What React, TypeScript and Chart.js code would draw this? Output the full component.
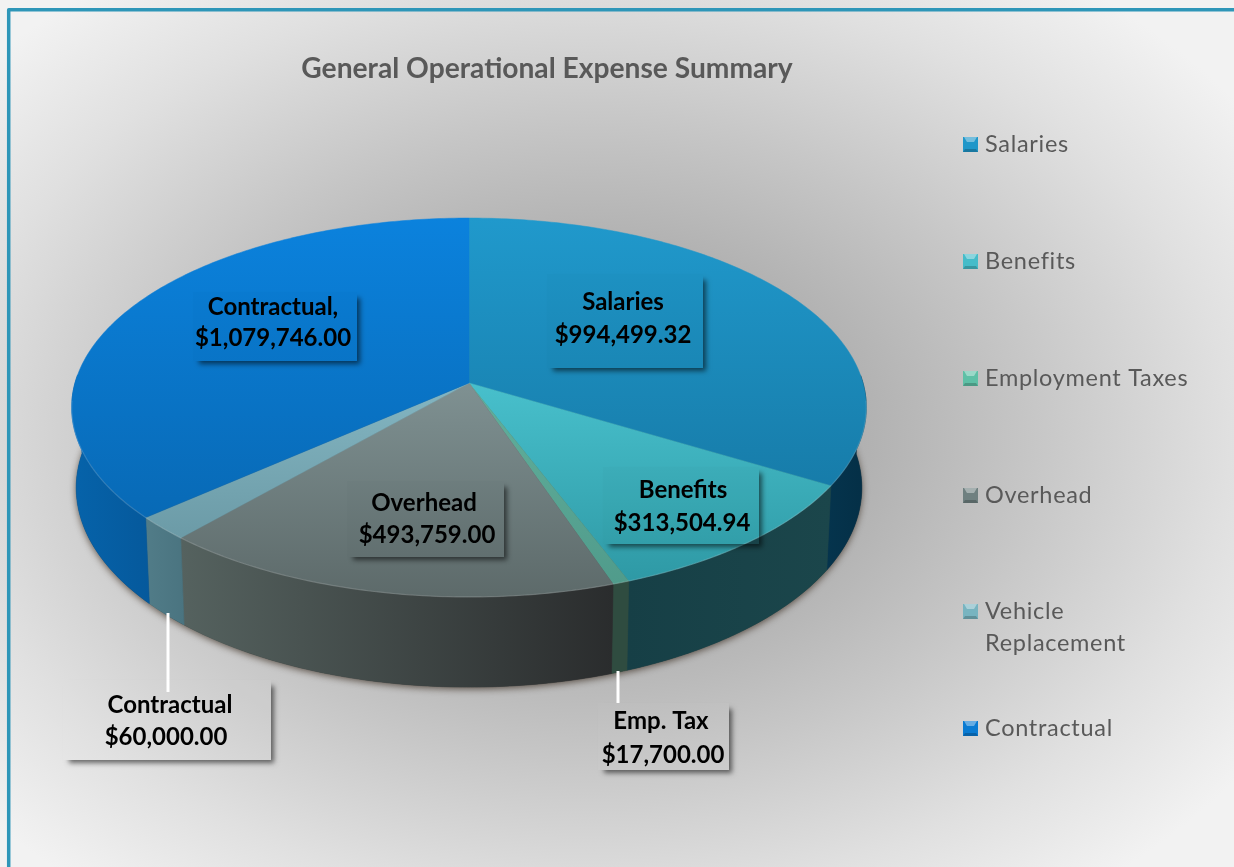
import React, { useEffect, useRef } from "react";
import { Chart, registerables } from "chart.js";

Chart.register(...registerables);

const categories = ["Salaries", "Benefits", "Employment Taxes", "Overhead", "Vehicle Replacement", "Contractual"];
const expenseValues = [994499.32, 313504.94, 17700, 493759, 60000, 1079746];
const dataLabelNames = ["Salaries", "Benefits", "Emp. Tax", "Overhead", "Contractual", "Contractual,"];
const chartTitle = "General Operational Expense Summary";
const legendColors = ["#2097c9", "#45bcc9", "#5ec0a6", "#6f8080", "#78b4c0", "#0a7bd2"];
const topLight = ["#2099cc", "#48c0cc", "#62b09c", "#7f9192", "#84b6c2", "#0b82dd"];
const topDark = ["#13709b", "#2c96a2", "#4f9a8a", "#5d6a6a", "#62909c", "#0763ab"];
const wallLeft = ["#05344d", "#163f46", "#2f4c40", "#55625f", "#517c88", "#0663aa"];
const wallRight = ["#042f46", "#1b464b", "#2f4c40", "#2a2c2d", "#4a7480", "#05599c"];

const boxes = [
  { l: 547, t: 274, r: 703, b: 368, dark: true },
  { l: 603, t: 467, r: 759, b: 544, dark: true },
  { l: 598, t: 703, r: 729, b: 770, dark: false },
  { l: 347, t: 481, r: 504, b: 557, dark: true },
  { l: 63, t: 680, r: 271, b: 760, dark: false },
  { l: 193, t: 292, r: 357, b: 361, dark: true },
];
const textCentres = [
  [623, 302, 623, 335], [683, 490, 682, 523], [661, 721, 663, 755], [424, 503, 427, 535], [170, 705, 166, 737], [273, 307, 273, 338],
];
const leaders = [
  [168, 613, 692],
  [618, 671, 703],
];
const legendRows = [144, 261, 378, 495, 611, 728];

const K = 0.1293;
const projectTop = (a: number) => {
  const u = Math.cos(a), v = -Math.sin(a), w = 1 + K * v;
  return [469 + (394 * u) / w, 383 - (186.3 * v) / w];
};
const projectBottom = (a: number) => {
  const u = Math.cos(a), v = -Math.sin(a), w = 1 + K * v;
  return [469 + (389.5 * u) / w, 462 - (196 * v) / w];
};

const money = (n: number) =>
  "$" + n.toLocaleString("en-US", { minimumFractionDigits: 2, maximumFractionDigits: 2 });

const pie3d = {
  id: "pie3d",
  beforeDraw(chart: any) {
    const ctx = chart.ctx as CanvasRenderingContext2D;
    const W = chart.width, H = chart.height;
    ctx.save();
    ctx.fillStyle = "#fff";
    ctx.fillRect(0, 0, W, H);
    ctx.save();
    ctx.translate(590, 440);
    ctx.scale(1, 0.72);
    const g = ctx.createRadialGradient(0, 0, 0, 0, 0, 800);
    g.addColorStop(0, "#8c8c8c");
    g.addColorStop(0.3, "#adadad");
    g.addColorStop(0.55, "#c6c6c6");
    g.addColorStop(0.8, "#e0e0e0");
    g.addColorStop(1, "#f2f2f2");
    ctx.fillStyle = g;
    ctx.fillRect(-700, -800, 1500, 1600);
    ctx.restore();
    ctx.strokeStyle = "#2e96b8";
    ctx.lineWidth = 3.5;
    ctx.lineJoin = "round";
    ctx.beginPath();
    ctx.moveTo(8.7, H + 5);
    ctx.lineTo(8.7, 9.7);
    ctx.lineTo(W + 5, 9.7);
    ctx.stroke();
    ctx.restore();
  },
  beforeDatasetsDraw(chart: any) {
    const ctx = chart.ctx as CanvasRenderingContext2D;
    const arcs = chart.getDatasetMeta(0).data as any[];

    // soft shadow under the whole disc
    ctx.save();
    ctx.shadowColor = "rgba(40,25,10,0.65)";
    ctx.shadowBlur = 7;
    ctx.shadowOffsetY = 2;
    ctx.fillStyle = "#333";
    ctx.beginPath();
    for (let i = 0; i <= 240; i++) {
      const p = projectBottom((i / 240) * Math.PI * 2);
      if (i === 0) ctx.moveTo(p[0], p[1]);
      else ctx.lineTo(p[0], p[1]);
    }
    ctx.closePath();
    ctx.fill();
    ctx.restore();

    // side walls
    arcs.forEach((arc, i) => {
      const s = arc.startAngle, e = arc.endAngle;
      const top: number[][] = [], bot: number[][] = [];
      const n = 120;
      for (let j = 0; j <= n; j++) {
        const a = s + ((e - s) * j) / n;
        if (-Math.sin(a) > 0.05) continue;
        top.push(projectTop(a));
        bot.push(projectBottom(a));
      }
      if (top.length < 2) return;
      const xs = top.concat(bot).map((p) => p[0]);
      const g = ctx.createLinearGradient(Math.min(...xs), 0, Math.max(...xs), 0);
      g.addColorStop(0, wallLeft[i]);
      g.addColorStop(1, wallRight[i]);
      ctx.fillStyle = g;
      ctx.strokeStyle = g;
      ctx.lineWidth = 0.6;
      ctx.beginPath();
      top.forEach((p, j) => (j ? ctx.lineTo(p[0], p[1]) : ctx.moveTo(p[0], p[1])));
      bot.reverse().forEach((p) => ctx.lineTo(p[0], p[1]));
      ctx.closePath();
      ctx.fill();
      ctx.stroke();
    });

    // top faces
    arcs.forEach((arc, i) => {
      const s = arc.startAngle, e = arc.endAngle;
      const from = i === 0 || i === 5 ? 218 : 383;
      const g = ctx.createLinearGradient(0, from, 0, 597);
      g.addColorStop(0, topLight[i]);
      g.addColorStop(1, topDark[i]);
      ctx.fillStyle = g;
      ctx.strokeStyle = g;
      ctx.lineWidth = 0.5;
      ctx.beginPath();
      ctx.moveTo(469, 383);
      const n = 160;
      for (let j = 0; j <= n; j++) {
        const p = projectTop(s + ((e - s) * j) / n);
        ctx.lineTo(p[0], p[1]);
      }
      ctx.closePath();
      ctx.fill();
      ctx.stroke();
    });

    // light edge on the front rim
    ctx.strokeStyle = "rgba(255,255,255,0.16)";
    ctx.lineWidth = 1.2;
    ctx.beginPath();
    for (let j = 0; j <= 200; j++) {
      const p = projectTop(Math.PI * 0.03 + (Math.PI * 0.94 * j) / 200);
      if (j) ctx.lineTo(p[0], p[1]);
      else ctx.moveTo(p[0], p[1]);
    }
    ctx.stroke();
    return false;
  },
  afterDraw(chart: any) {
    const ctx = chart.ctx as CanvasRenderingContext2D;
    const W = chart.width, H = chart.height;
    ctx.save();
    // title
    ctx.textAlign = "center";
    ctx.textBaseline = "middle";
    ctx.fillStyle = "#595959";
    ctx.font = "bold 28.2px Lato";
    ctx.fillText(chartTitle, 547, 69);

    // leader lines
    ctx.strokeStyle = "#ffffff";
    ctx.lineWidth = 3;
    leaders.forEach(([x, a, b]) => {
      ctx.beginPath();
      ctx.moveTo(x, a);
      ctx.lineTo(x, b);
      ctx.stroke();
    });

    // data label boxes
    boxes.forEach((b, i) => {
      ctx.save();
      ctx.beginPath();
      ctx.rect(0, 0, W, H);
      ctx.rect(b.l, b.t, b.r - b.l, b.b - b.t);
      ctx.clip("evenodd");
      ctx.shadowColor = "rgba(0,0,0,0.55)";
      ctx.shadowBlur = 5;
      ctx.shadowOffsetX = 3;
      ctx.shadowOffsetY = 3;
      ctx.fillStyle = "#000";
      ctx.fillRect(b.l + 3, b.t + 3, b.r - b.l - 3, b.b - b.t - 3);
      ctx.restore();
      ctx.fillStyle = b.dark ? "rgba(0,0,0,0.01)" : "rgba(255,255,255,0.02)";
      ctx.fillRect(b.l, b.t, b.r - b.l, b.b - b.t);
      const [x1, y1, x2, y2] = textCentres[i];
      ctx.fillStyle = "#000";
      ctx.font = "bold 24px Lato";
      ctx.fillText(dataLabelNames[i], x1, y1);
      ctx.fillText(money(expenseValues[i]), x2, y2);
    });

    // legend
    ctx.textAlign = "left";
    categories.forEach((name, i) => {
      const cy = legendRows[i];
      const x = 963, y = cy - 7, s = 15, b = 4;
      const c = legendColors[i];
      ctx.fillStyle = c;
      ctx.fillRect(x, y, s, s);
      ctx.fillStyle = "rgba(255,255,255,0.38)";
      ctx.beginPath();
      ctx.moveTo(x + 1, y);
      ctx.lineTo(x + s - 1, y);
      ctx.lineTo(x + s - b, y + b + 1);
      ctx.lineTo(x + b, y + b + 1);
      ctx.closePath();
      ctx.fill();
      ctx.fillStyle = "rgba(0,0,0,0.2)";
      ctx.beginPath();
      ctx.moveTo(x, y + s);
      ctx.lineTo(x + s, y + s);
      ctx.lineTo(x + s - 2, y + s - 3);
      ctx.lineTo(x + 2, y + s - 3);
      ctx.closePath();
      ctx.fill();
      ctx.fillStyle = "#595959";
      ctx.font = "23.5px Lato";
      (ctx as any).letterSpacing = "0.7px";
      const lines = name === "Vehicle Replacement" ? ["Vehicle", "Replacement"] : [name];
      lines.forEach((t, j) => ctx.fillText(t, 985, cy + j * 32));
      (ctx as any).letterSpacing = "0px";
    });
    ctx.restore();
  },
};

export default function App() {
  const ref = useRef<HTMLCanvasElement>(null);
  useEffect(() => {
    document.body.style.margin = "0";
    document.body.style.overflow = "hidden";
    const chart = new Chart(ref.current!, {
      type: "pie",
      data: {
        labels: categories,
        datasets: [{ data: expenseValues, backgroundColor: legendColors, borderWidth: 0 }],
      },
      options: {
        responsive: false,
        animation: false,
        events: [],
        plugins: { legend: { display: false }, title: { display: false }, tooltip: { enabled: false } },
      },
      plugins: [pie3d],
    } as any);
    return () => chart.destroy();
  }, []);
  return <canvas ref={ref} width={1234} height={867} style={{ display: "block" }} />;
}
